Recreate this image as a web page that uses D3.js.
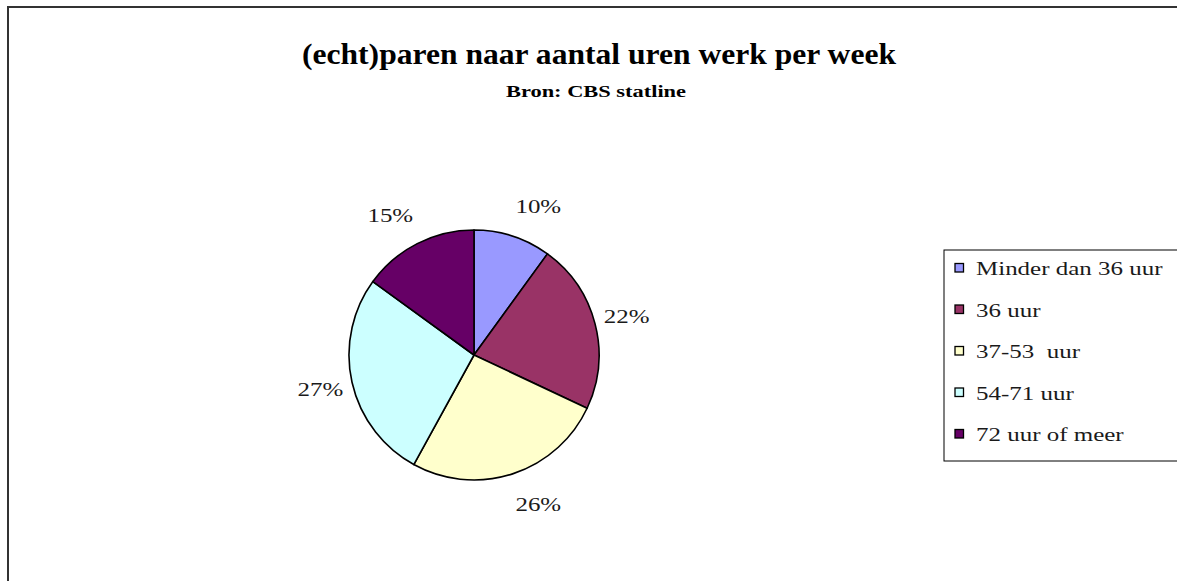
<!DOCTYPE html>
<html>
<head>
<meta charset="utf-8">
<script src="https://cdn.jsdelivr.net/npm/d3@7"></script>
<style>
body { margin: 0; background: #fff; }
svg { display: block; font-family: "Liberation Serif", "DejaVu Serif", serif; }
</style>
</head>
<body>
<svg width="1177" height="581"></svg>
<script>
var categories = ['Minder dan 36 uur', '36 uur', '37-53  uur', '54-71 uur', '72 uur of meer'];
var values = [10, 22, 26, 27, 15];
var colors = ['#9999FF', '#993366', '#FFFFCC', '#CCFFFF', '#660066'];
var title = '(echt)paren naar aantal uren werk per week';
var subtitle = 'Bron: CBS statline';

// Garamond-ish look: stretch Times horizontally
var STRETCH = 1.28;

function stretch(sel, factor) {
    sel.each(function () {
        var w = this.getComputedTextLength();
        d3.select(this)
            .attr('textLength', w * factor)
            .attr('lengthAdjust', 'spacingAndGlyphs');
    });
}

function init() {
    var svg = d3.select('svg');
    var cx = 474, cy = 355, radius = 125;

    // outer chart frame (runs off right and bottom)
    svg.append('path')
        .attr('d', 'M8,590 L8,7 L1190,7')
        .attr('fill', 'none')
        .attr('stroke', '#333')
        .attr('stroke-width', 2);

    svg.append('text')
        .attr('x', 599).attr('y', 64)
        .attr('text-anchor', 'middle')
        .attr('font-size', 29).attr('font-weight', 'bold')
        .attr('textLength', 594).attr('lengthAdjust', 'spacingAndGlyphs')
        .text(title);
    svg.append('text')
        .attr('x', 596).attr('y', 97)
        .attr('text-anchor', 'middle')
        .attr('font-size', 16).attr('font-weight', 'bold')
        .attr('textLength', 180).attr('lengthAdjust', 'spacingAndGlyphs')
        .text(subtitle);

    var color = d3.scaleOrdinal().domain(categories).range(colors);
    var pie = d3.pie().sort(null).value(function (d) { return d.value; });
    var data = categories.map(function (c, i) { return { name: c, value: values[i] }; });
    var arcs = pie(data);
    var arc = d3.arc().innerRadius(0).outerRadius(radius);
    var total = d3.sum(values);

    var g = svg.append('g').attr('transform', 'translate(' + cx + ',' + cy + ')');
    g.selectAll('.slice').data(arcs).enter().append('path')
        .attr('class', 'slice')
        .attr('d', arc)
        .attr('fill', function (d) { return color(d.data.name); })
        .attr('stroke', '#000')
        .attr('stroke-width', 1.6)
        .attr('stroke-linejoin', 'round');

    // labels just outside the rim; box pushed sideways away from the pie
    var lbl = g.selectAll('.lbl').data(arcs).enter().append('text')
        .attr('class', 'lbl')
        .attr('text-anchor', 'middle')
        .attr('dy', '0.35em')
        .attr('font-size', 19.5)
        .attr('fill', '#1a1a1a')
        .text(function (d) { return Math.round(d.data.value / total * 100) + '%'; });
    stretch(lbl, STRETCH);
    lbl.attr('transform', function (d) {
        var a = (d.startAngle + d.endAngle) / 2;
        var w = +d3.select(this).attr('textLength');
        var s = Math.sin(a);
        var x = (radius + 9) * s + (s >= 0 ? 1 : -1) * w / 2;
        var y = -(radius + 32) * Math.cos(a);
        return 'translate(' + x + ',' + y + ')';
    });

    // legend
    var lx = 944, ly = 250;
    svg.append('rect')
        .attr('x', lx).attr('y', ly)
        .attr('width', 260).attr('height', 211)
        .attr('fill', '#fff')
        .attr('stroke', '#000')
        .attr('stroke-width', 1);
    var rowY = d3.scalePoint().domain(categories).range([ly + 25, ly + 191]);
    var item = svg.selectAll('.leg').data(categories).enter().append('g')
        .attr('class', 'leg')
        .attr('transform', function (d) { return 'translate(' + (lx + 11) + ',' + rowY(d) + ')'; });
    item.append('rect')
        .attr('x', 0).attr('y', -11.5)
        .attr('width', 8.5).attr('height', 8.5)
        .attr('fill', function (d) { return color(d); })
        .attr('stroke', '#000')
        .attr('stroke-width', 1.3);
    var lt = item.append('text')
        .attr('x', 21)
        .attr('font-size', 19.5)
        .attr('fill', '#1a1a1a')
        .style('white-space', 'pre')
        .text(function (d) { return d; });
    stretch(lt, STRETCH);
}
init();
</script>
</body>
</html>
